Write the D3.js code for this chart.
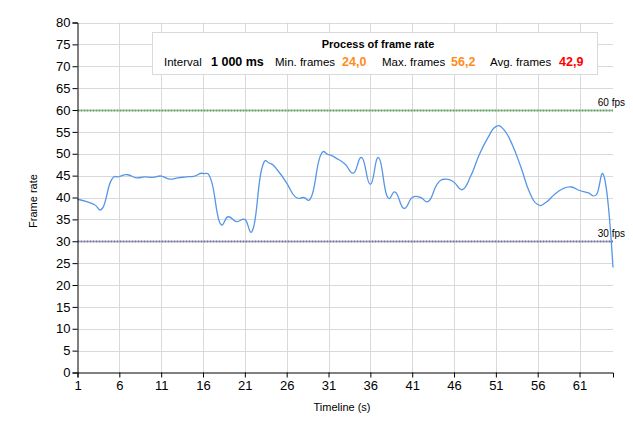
<!DOCTYPE html>
<html>
<head>
<meta charset="utf-8">
<script src="https://cdn.jsdelivr.net/npm/d3@7"></script>
<style>
  html, body { margin: 0; padding: 0; background: #fff; }
  svg { display: block; font-family: "Liberation Sans", Arial, sans-serif; }
</style>
</head>
<body>
<svg id="chart" width="633" height="431"></svg>
<script>
// ---- data ----
const timeline = [1,2,3,4,5,6,7,8,9,10,11,12,13,14,15,16,17,18,19,20,21,22,23,24,25,26,27,28,29,30,31,32,33,34,35,36,37,38,39,40,41,42,43,44,45,46,47,48,49,50,51,52,53,54,55,56,57,58,59,60,61,62,63,64,65];
const frameRate = [39.6,39.1,38.4,37.6,43.8,44.8,45.2,44.5,44.7,44.6,
                   44.9,44.2,44.5,44.7,44.9,45.5,43.8,34.3,35.6,34.5,
                   35.0,32.9,46.4,47.8,46.0,43.3,40.2,40.0,40.4,49.4,
                   49.8,48.9,47.6,45.6,49.1,43.0,49.1,40.3,41.2,37.5,
                   40.0,40.0,39.2,43.1,44.2,43.5,41.8,44.9,49.7,53.5,
                   56.2,55.4,51.9,46.9,41.3,38.4,38.9,40.7,42.0,42.4,
                   41.6,41.1,40.6,44.3,24.0];
const xTicks = [1,6,11,16,21,26,31,36,41,46,51,56,61];
const yTicks = [0,5,10,15,20,25,30,35,40,45,50,55,60,65,70,75,80];
const thresholds = [{value: 60, label: "60 fps"}, {value: 30, label: "30 fps"}];
const legendTitle = "Process of frame rate";
const legendItems = [
  {label: "Interval", value: "1 000 ms"},
  {label: "Min. frames", value: "24,0"},
  {label: "Max. frames", value: "56,2"},
  {label: "Avg. frames", value: "42,9"}
];

// ---- layout ----
const svg = d3.select("#chart");
const pL = 77.5, pR = 613, pT = 22.5, pB = 372.5;
const x = d3.scaleLinear().domain([1, 65]).range([pL, pR]);
const y = d3.scaleLinear().domain([0, 80]).range([pB, pT]);

// gridlines
const grid = svg.append("g").attr("stroke", "#d9d9d9").attr("stroke-width", 1);
grid.selectAll("line.h").data(yTicks.filter(d => d > 0)).enter().append("line")
  .attr("x1", pL).attr("x2", pR)
  .attr("y1", d => Math.round(y(d)) + 0.5).attr("y2", d => Math.round(y(d)) + 0.5);
grid.selectAll("line.v").data(xTicks.filter(d => d > 1)).enter().append("line")
  .attr("x1", d => Math.round(x(d)) + 0.5).attr("x2", d => Math.round(x(d)) + 0.5)
  .attr("y1", pT).attr("y2", pB);

// threshold lines
const thrColors = {60: "#5e9c5e", 30: "#6f6f9f"};
thresholds.forEach(t => {
  const yy = Math.round(y(t.value)) + 0.5;
  svg.append("line").attr("x1", pL).attr("x2", pR)
    .attr("y1", yy).attr("y2", yy)
    .attr("stroke", thrColors[t.value]).attr("stroke-width", 2)
    .attr("stroke-dasharray", "2,1");
});

// line series
const line = d3.line()
  .x((d, i) => x(timeline[i]))
  .y(d => y(d))
  .curve(d3.curveCardinal.tension(-0.4));
svg.append("path").datum(frameRate)
  .attr("d", line).attr("fill", "none")
  .attr("stroke", "#5596e6").attr("stroke-width", 1.3);

// threshold labels
thresholds.forEach(t => {
  svg.append("text").attr("x", 625).attr("y", y(t.value) - 4)
    .attr("text-anchor", "end").attr("font-size", 10).attr("fill", "#000")
    .text(t.label);
});

// axes
const yAxis = d3.axisLeft(y).tickValues(yTicks).tickSize(5).tickPadding(2);
const gy = svg.append("g").attr("transform", `translate(${pL},0)`).call(yAxis);
const xAxis = d3.axisBottom(x).tickValues(xTicks).tickSize(5).tickPadding(3);
const gx = svg.append("g").attr("transform", `translate(0,${pB})`).call(xAxis);
[gx, gy].forEach(g => {
  g.select(".domain").attr("stroke", "#000");
  g.selectAll(".tick line").attr("stroke", "#000");
  g.selectAll(".tick text").attr("font-size", 13).attr("fill", "#000")
    .attr("font-family", "Liberation Sans, Arial, sans-serif");
});

// axis titles
svg.append("text").attr("x", 342).attr("y", 411).attr("text-anchor", "middle")
  .attr("font-size", 11).text("Timeline (s)");
svg.append("text").attr("transform", "translate(37,201) rotate(-90)")
  .attr("text-anchor", "middle").attr("font-size", 11).text("Frame rate");

// legend box
svg.append("rect").attr("x", 152.5).attr("y", 32.5).attr("width", 445).attr("height", 42)
  .attr("fill", "#fff").attr("stroke", "#d9d9d9");
svg.append("text").attr("x", 378).attr("y", 48).attr("text-anchor", "middle")
  .attr("font-size", 11).attr("font-weight", "bold").text(legendTitle);
const labelX = [164, 275, 382, 490];
const valueX = [211, 342, 451, 559];
const valueColors = ["#000", "#ff8c1a", "#ff8c1a", "#ff0000"];
legendItems.forEach((d, i) => {
  svg.append("text").attr("x", labelX[i]).attr("y", 66).attr("font-size", 11.5).text(d.label);
  svg.append("text").attr("x", valueX[i]).attr("y", 66).attr("font-size", 12.5)
    .attr("font-weight", "bold").attr("fill", valueColors[i]).text(d.value);
});
</script>
</body>
</html>
